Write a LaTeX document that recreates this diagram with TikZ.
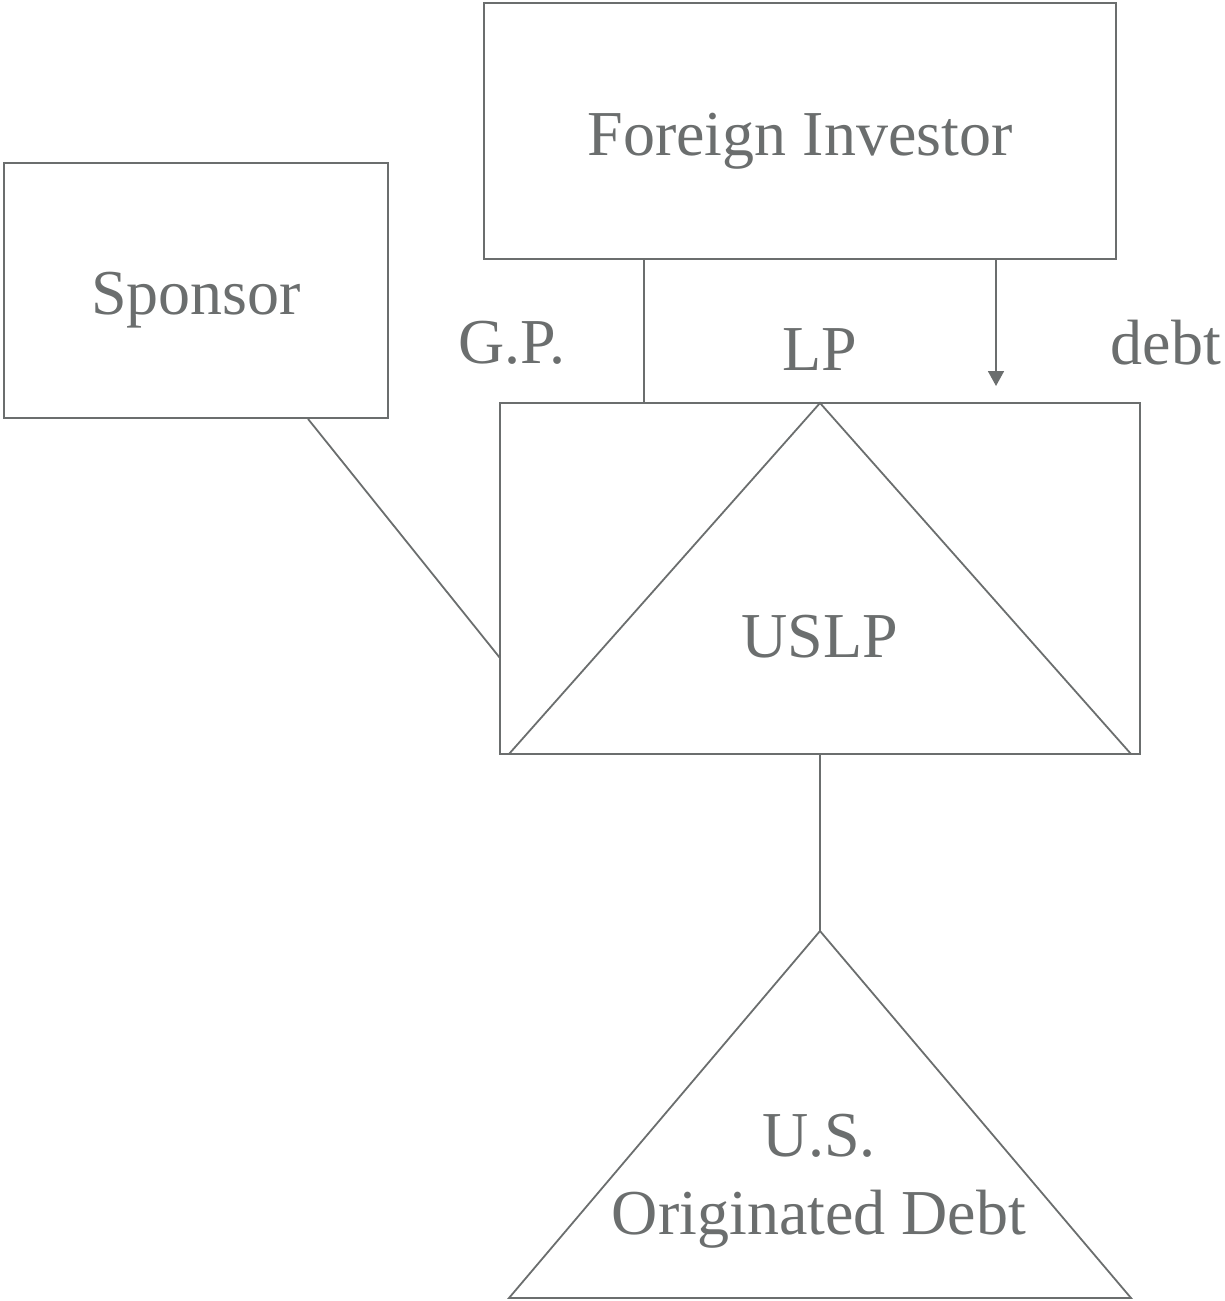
\documentclass[tikz,border=0pt]{standalone}
\usepackage{fontspec}
\setmainfont{Liberation Serif}
\usetikzlibrary{arrows.meta}
\definecolor{ink}{HTML}{6B6E6E}
\begin{document}
\begin{tikzpicture}[x=1pt,y=-1pt,
  every node/.style={text=ink,font=\fontsize{64}{78}\selectfont},
  box/.style={draw=ink,line width=1.8pt,inner sep=0pt},
  conn/.style={draw=ink,line width=1.8pt},
  lbl/.style={inner sep=0pt}]
\useasboundingbox (0,0) rectangle (1224,1301);
% boxes
\node[box,minimum width=632pt,minimum height=256pt] (fi) at (800,131) {};
\node[lbl] (fit) at (800,141) {Foreign Investor};
\node[box,minimum width=384pt,minimum height=255pt] (sp) at (196,290.5) {};
\node[lbl] (spt) at (196,300) {Sponsor};
\node[box,minimum width=640pt,minimum height=351pt] (uslp) at (820,578.5) {};
% triangle inside USLP
\coordinate (ta) at (820,403);
\coordinate (tl) at (509,754);
\coordinate (tr) at (1131,754);
\draw[conn] (tl) -- (ta) -- (tr);
\node[lbl] (uslpt) at (820,637) {USLP};
% bottom triangle
\coordinate (ba) at (820,931);
\coordinate (bl) at (509,1298);
\coordinate (br) at (1131,1298);
\draw[conn] (ba) -- (bl) -- (br) -- cycle;
\node[lbl,align=center] (usd) at (819,1181) {U.S.\\Originated Debt};
% labels
\node[lbl] (gp) at (512,343) {G.P.};
\node[lbl] (lp) at (820,350) {LP};
\node[lbl] (debt) at (1166,343) {debt};
% connectors
\coordinate (gpin) at (uslp.north -| 644,0);
\draw[conn] (fi.south -| gpin) -- (gpin);
\coordinate (debtend) at (996,386);
\draw[conn,-{Triangle[width=16pt,length=15pt]}] (fi.south -| debtend) -- (debtend);
\coordinate (spend) at (500,658);
\draw[conn] (sp.south -| 308,0) -- (spend);
\draw[conn] (uslp.south) -- (ba);
\end{tikzpicture}
\end{document}
